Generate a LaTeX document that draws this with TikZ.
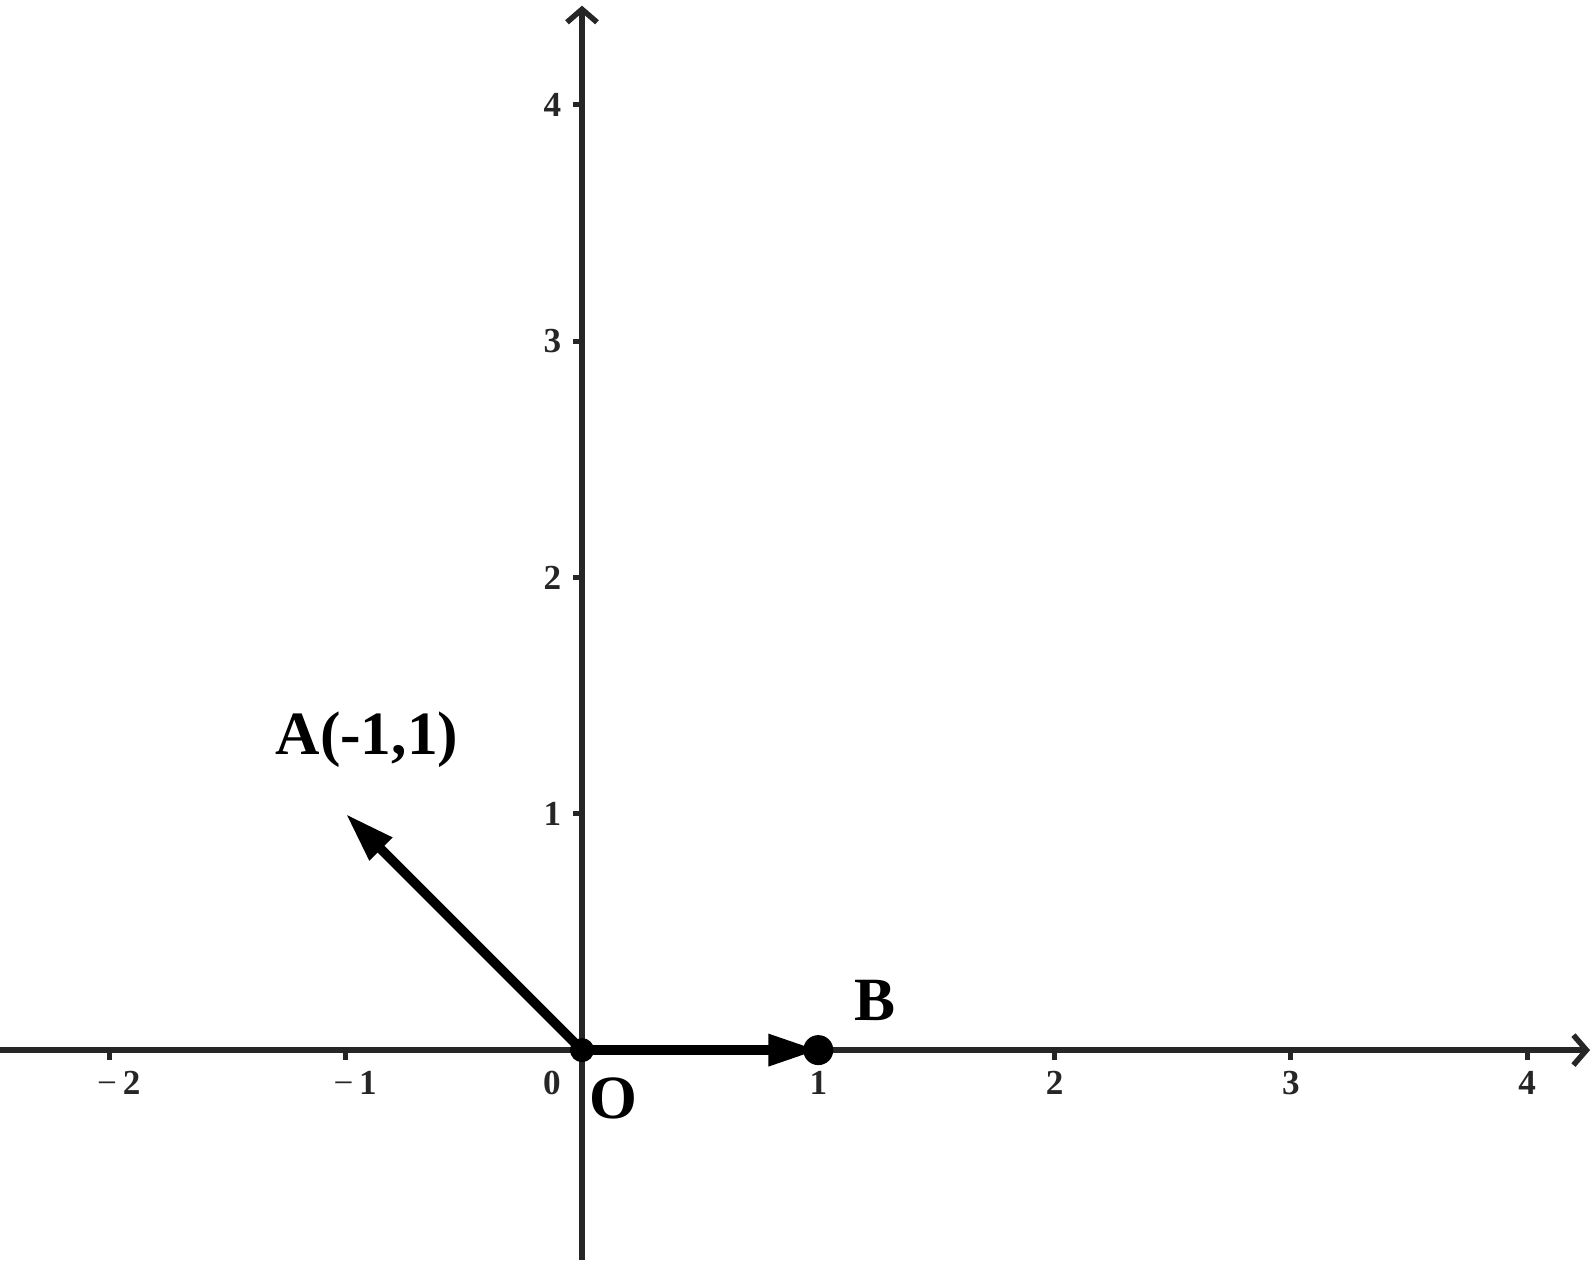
\documentclass[tikz,border=0pt]{standalone}
\usepackage{fontspec}
\setmainfont{Liberation Serif}
\usetikzlibrary{arrows.meta}
\definecolor{axisgray}{HTML}{262626}
\begin{document}
\begin{tikzpicture}[x=2.363cm,y=2.363cm,
  axisline/.style={draw=axisgray,line width=0.055cm,-{Straight Barb[length=0.13cm,width=0.3cm]}},
  tickline/.style={draw=axisgray,line width=0.05cm},
  ticklabel/.style={inner sep=0pt,text=axisgray,font=\fontsize{10}{11}\selectfont\bfseries},
  biglabel/.style={inner sep=0pt,font=\fontsize{17.5}{18}\selectfont\bfseries},
  vec/.style={draw=black,line width=0.095cm,-{Triangle[length=0.5cm,width=0.3cm]}},
  dotpt/.style={circle,fill=black,inner sep=0pt}]
\useasboundingbox (-2.463,-0.889) rectangle (4.287,4.444);
% axes
\coordinate (xl) at (-2.463,0);
\coordinate (xr) at (4.266,0);
\coordinate (yb) at (0,-0.889);
\coordinate (yt) at (0,4.42);
\draw[axisline] (xl) -- (xr);
\draw[axisline] (yb) -- (yt);
% ticks
\foreach \i in {-2,-1,1,2,3,4}{
  \draw[tickline] (\i,0) -- (\i,-0.04);
}
\foreach \i in {1,2,3,4}{
  \draw[tickline] (0,\i) -- (-0.04,\i);
}
\node[ticklabel] (xm2) at (-1.96,-0.14) {\textmd{−}\,2};
\node[ticklabel] (xm1) at (-0.96,-0.14) {\textmd{−}\,1};
\node[ticklabel] (x1) at (1,-0.14) {1};
\node[ticklabel] (x2) at (2,-0.14) {2};
\node[ticklabel] (x3) at (3,-0.14) {3};
\node[ticklabel] (x4) at (4,-0.14) {4};
\node[ticklabel] (x0) at (-0.127,-0.14) {0};
\node[ticklabel,anchor=east] (y1) at (-0.085,1) {1};
\node[ticklabel,anchor=east] (y2) at (-0.085,2) {2};
\node[ticklabel,anchor=east] (y3) at (-0.085,3) {3};
\node[ticklabel,anchor=east] (y4) at (-0.085,4) {4};
% points
\coordinate (O) at (0,0);
\coordinate (A) at (-1,1);
\coordinate (B) at (1,0);
\draw[vec] (O) -- (A);
\draw[vec] (O) -- (B);
\node[dotpt,minimum size=0.24cm] (Odot) at (O) {};
\node[dotpt,minimum size=0.3cm] (Bdot) at (B) {};
\node[biglabel] (Olab) at (0.131,-0.203) {O};
\node[biglabel] (Alab) at (-0.91,1.312) {A(-1,1)};
\node[biglabel] (Blab) at (1.24,0.212) {B};
\end{tikzpicture}
\end{document}
